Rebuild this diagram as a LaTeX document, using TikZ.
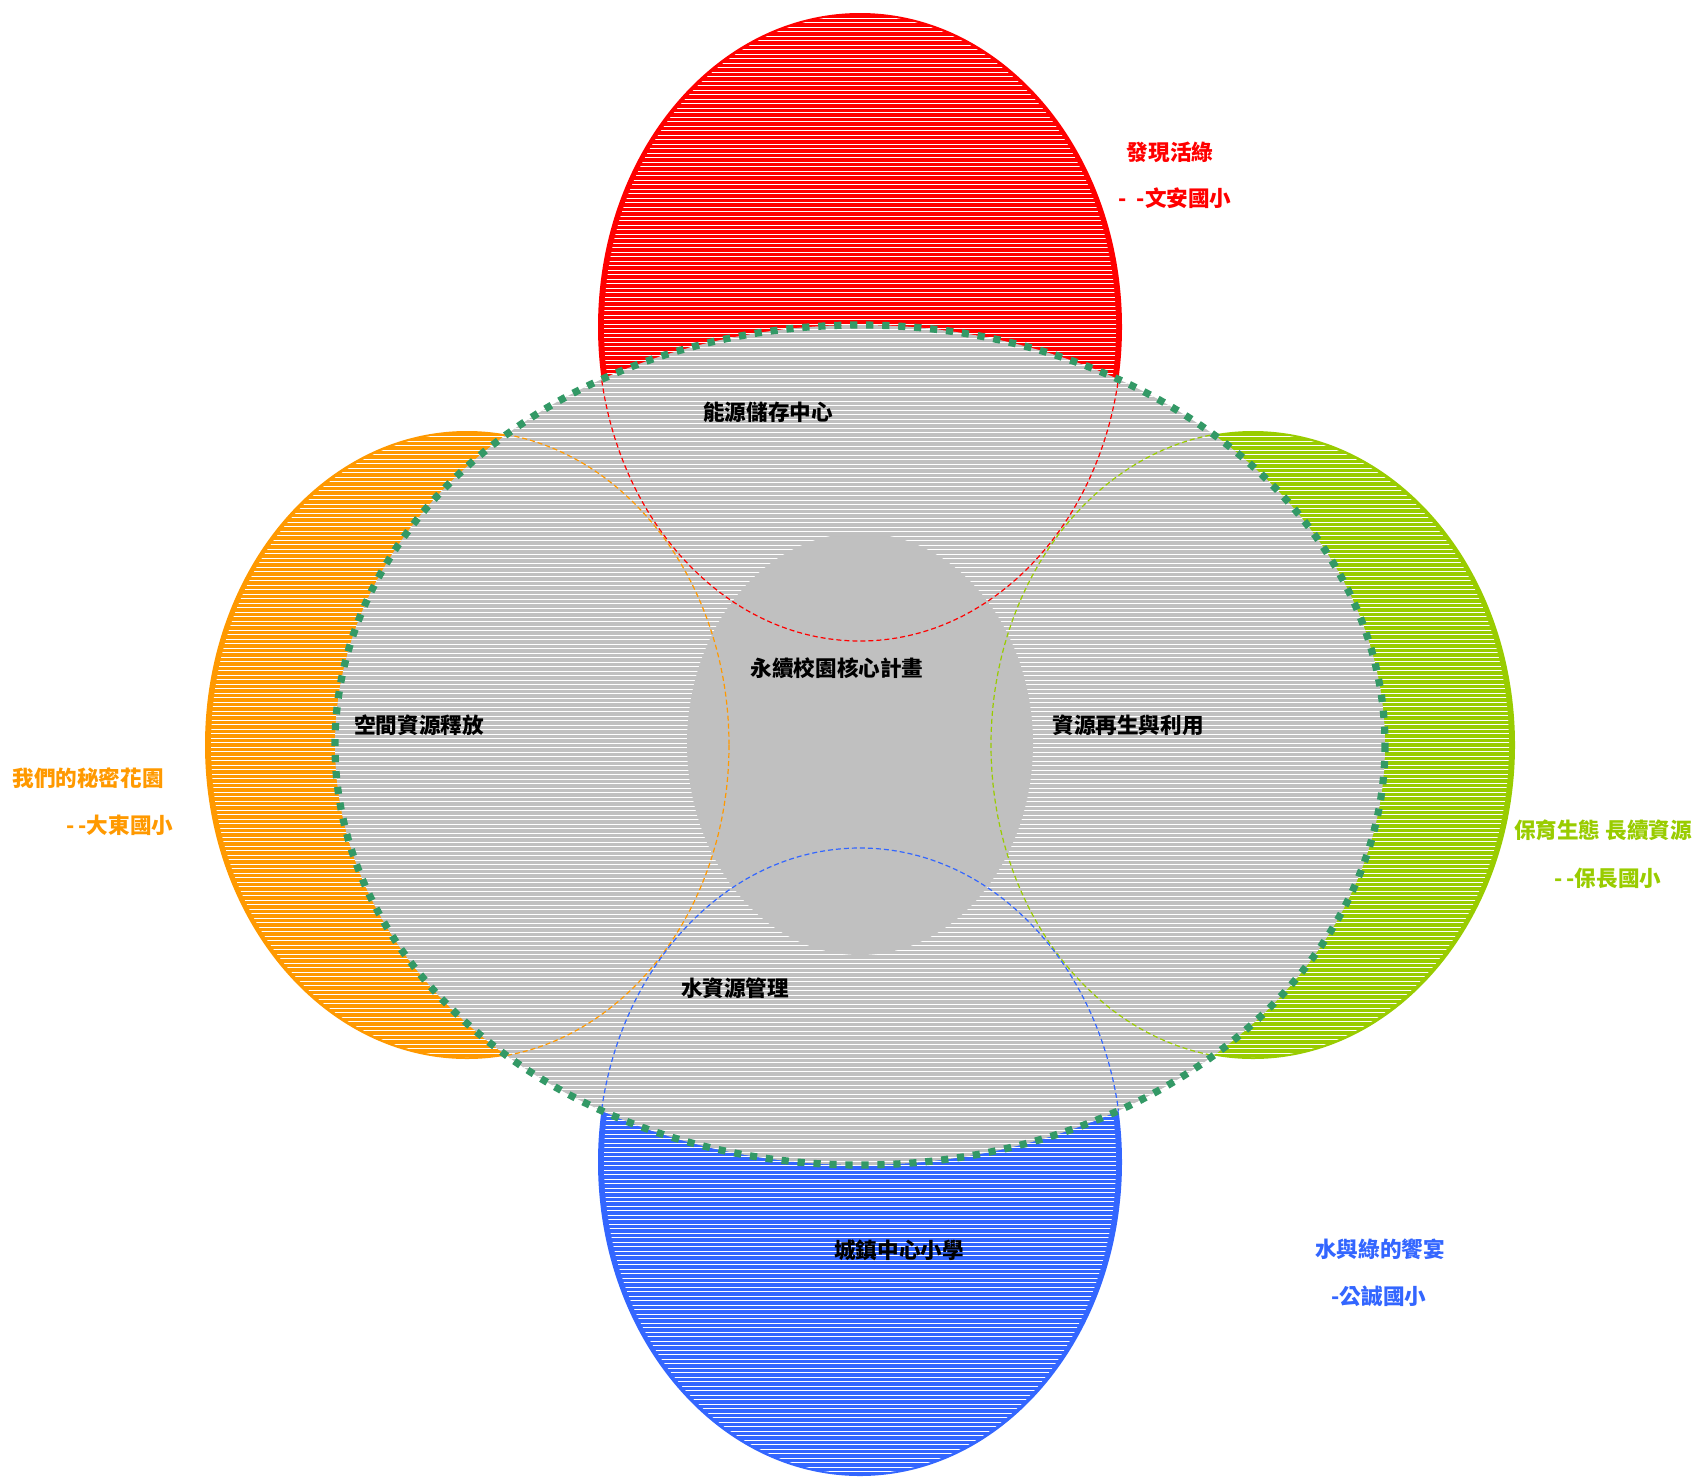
\documentclass[tikz,border=0pt]{standalone}
\usepackage{fontspec}
\newfontfamily\cjk{Noto Sans CJK TC}
\usepackage{tikz}
\definecolor{redring}{HTML}{FF0000}
\definecolor{orangering}{HTML}{FF9900}
\definecolor{greenring}{HTML}{99CC00}
\definecolor{bluering}{HTML}{3366FF}
\definecolor{coregrey}{HTML}{C0C0C0}
\definecolor{rimgreen}{HTML}{339966}
\tikzset{stripe/.style={white, line width=0.45pt}}
\tikzstyle{tag} = [font=\cjk\bfseries\fontsize{10.8}{13}\selectfont, inner sep=0pt]
\tikzstyle{rim} = [draw=rimgreen, line width=3.6pt, dash pattern=on 3.6pt off 4.4pt]
\tikzstyle{ringline} = [line width=0.6pt, dash pattern=on 2.5pt off 1.5pt]

\begin{document}
\begin{tikzpicture}[x=0.5pt,y=-0.5pt]
\useasboundingbox (0,0) rectangle (1702,1478);

% four coloured rings
\foreach \cx/\cy/\col in {860/327/redring, 467/745/orangering, 1253/745/greenring, 860/1162/bluering}{
  \fill[\col] (\cx,\cy) ellipse (262 and 314);
  \begin{scope}
    \clip (\cx,\cy) ellipse (256 and 312);
    \foreach \yy in {0,4.5,...,1478}
      \draw[stripe] (\cx-262,\yy) -- (\cx+262,\yy);
  \end{scope}
}

% big grey ring
\fill[coregrey] (860,745) ellipse (525 and 420);
\begin{scope}
  \clip (860,745) ellipse (525 and 420);
  \foreach \yy in {320,324.5,...,1170}
    \draw[stripe] (330,\yy) -- (1390,\yy);
\end{scope}
\fill[coregrey] (860,744) ellipse (173 and 211);

% ring edges seen through the grey
\begin{scope}
  \clip (860,745) ellipse (525 and 420);
  \foreach \cx/\cy/\col in {860/327/redring, 467/745/orangering, 1253/745/greenring, 860/1162/bluering}
    \draw[ringline,\col] (\cx,\cy) ellipse (262 and 314);
\end{scope}
\draw[rim] (860,745) ellipse (525 and 420);

% outer titles
\node[tag,redring] (faxian) at (1170,152) {發現活綠};
\node[tag,redring] (wenan) at (1175,198) {-\ \ -文安國小};
\node[tag,orangering] (mimi) at (88,778) {我們的秘密花園};
\node[tag,orangering] (dadong) at (120,825) {-\,-大東國小};
\node[tag,greenring] (baoyu) at (1603,830) {保育生態\ 長續資源};
\node[tag,greenring] (baochang) at (1608,878) {-\,-保長國小};
\node[tag,bluering] (xiangyan) at (1380,1249) {水與綠的饗宴};
\node[tag,bluering] (gongcheng) at (1379,1296) {-公誠國小};

% inner labels
\node[tag] (nengyuan) at (768,412) {能源儲存中心};
\node[tag] (kongjian) at (419,725) {空間資源釋放};
\node[tag] (zaisheng) at (1128,725) {資源再生與利用};
\node[tag] (hexin) at (837,668) {永續校園核心計畫};
\node[tag] (shuiziyuan) at (735,988) {水資源管理};
\node[tag] (chengzhen) at (899,1250) {城鎮中心小學};
\end{tikzpicture}
\end{document}
